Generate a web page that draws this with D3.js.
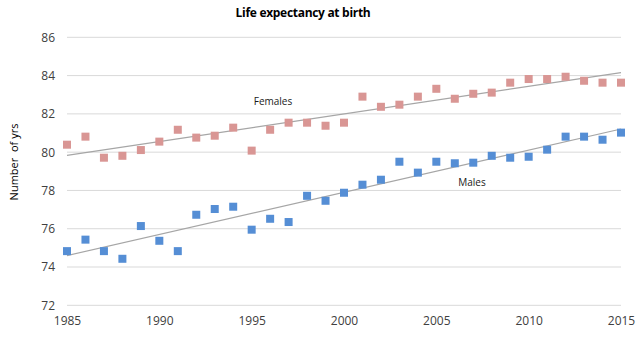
<!DOCTYPE html>
<html>
<head>
<meta charset="utf-8">
<script src="https://cdn.jsdelivr.net/npm/d3@7"></script>
<style>
  body { margin: 0; background: #fff; }
  svg text { font-family: "Open Sans", "DejaVu Sans", sans-serif; }
</style>
</head>
<body>
<div class="chart"></div>
<script>
var years = d3.range(1985, 2016);
var females = [80.39, 80.81, 79.71, 79.81, 80.11, 80.55, 81.17, 80.76, 80.86, 81.28,
               80.08, 81.17, 81.54, 81.54, 81.38, 81.54, 82.90, 82.37, 82.48, 82.90,
               83.31, 82.79, 83.05, 83.11, 83.63, 83.82, 83.82, 83.94, 83.73, 83.63, 83.63];
var males = [74.83, 75.43, 74.83, 74.43, 76.14, 75.37, 74.83, 76.73, 77.03, 77.15,
             75.95, 76.52, 76.35, 77.72, 77.46, 77.88, 78.30, 78.56, 79.50, 78.93,
             79.50, 79.42, 79.45, 79.81, 79.71, 79.76, 80.13, 80.81, 80.81, 80.65, 81.02];
var yTicks = [72, 74, 76, 78, 80, 82, 84, 86];
var xTicks = [1985, 1990, 1995, 2000, 2005, 2010, 2015];

var width = 643, height = 340;
var svg = d3.select(".chart").append("svg")
  .attr("width", width)
  .attr("height", height);

var x = d3.scaleLinear().domain([1985, 2015]).range([67, 621]);
var y = d3.scaleLinear().domain([72, 86]).range([305.3, 37.3]);

// gridlines
svg.append("g").selectAll("line").data(yTicks).enter().append("line")
  .attr("x1", x(1985)).attr("x2", x(2015))
  .attr("y1", function(d) { return y(d); })
  .attr("y2", function(d) { return y(d); })
  .attr("stroke", "#d9d9d9")
  .attr("stroke-width", 1);

// axes (labels only)
var yAxis = svg.append("g")
  .attr("transform", "translate(" + (x(1985) - 8) + ",0)")
  .call(d3.axisLeft(y).tickValues(yTicks).tickSize(0).tickPadding(4));
yAxis.select(".domain").remove();
yAxis.selectAll("text").attr("font-size", 12).attr("fill", "#404040")
  .style("font-family", "Open Sans, sans-serif");

var xAxis = svg.append("g")
  .attr("transform", "translate(0," + (y(72) + 11) + ")")
  .call(d3.axisBottom(x).tickValues(xTicks).tickFormat(d3.format("d")).tickSize(0).tickPadding(0));
xAxis.select(".domain").remove();
xAxis.selectAll("text").attr("font-size", 12).attr("fill", "#404040")
  .style("font-family", "Open Sans, sans-serif");

// trend lines
function fit(vals) {
  var mx = d3.mean(years), my = d3.mean(vals);
  var num = d3.sum(years, function(t, i) { return (t - mx) * (vals[i] - my); });
  var den = d3.sum(years, function(t) { return (t - mx) * (t - mx); });
  var b = num / den;
  return function(t) { return my + b * (t - mx); };
}
var series = [
  { name: "Females", vals: females, color: "#d99694", lx: 273, ly: 104.5 },
  { name: "Males", vals: males, color: "#558ed5", lx: 472, ly: 185.5 }
];
series.forEach(function(s) {
  var f = fit(s.vals);
  svg.append("line")
    .attr("x1", x(1985)).attr("y1", y(f(1985)))
    .attr("x2", x(2015)).attr("y2", y(f(2015)))
    .attr("stroke", "#a6a6a6")
    .attr("stroke-width", 1.2);
});

series.forEach(function(s) {
  svg.append("g").selectAll("rect").data(s.vals).enter().append("rect")
    .attr("x", function(d, i) { return x(years[i]) - 4; })
    .attr("y", function(d) { return y(d) - 4; })
    .attr("width", 8).attr("height", 8)
    .attr("fill", s.color);
  svg.append("text")
    .attr("x", s.lx).attr("y", s.ly)
    .attr("text-anchor", "middle")
    .attr("font-size", 10)
    .attr("fill", "#1a1a1a")
    .text(s.name);
});

// title
svg.append("text")
  .attr("x", 303).attr("y", 17)
  .attr("text-anchor", "middle")
  .attr("font-size", 12)
  .attr("font-weight", "bold")
  .attr("fill", "#000")
  .style("letter-spacing", "-0.3px")
  .text("Life expectancy at birth");

// y label
svg.append("text")
  .attr("transform", "translate(18,162) rotate(-90)")
  .attr("text-anchor", "middle")
  .attr("font-size", 11)
  .attr("fill", "#000")
  .style("white-space", "pre")
  .text("Number  of yrs");
</script>
</body>
</html>
